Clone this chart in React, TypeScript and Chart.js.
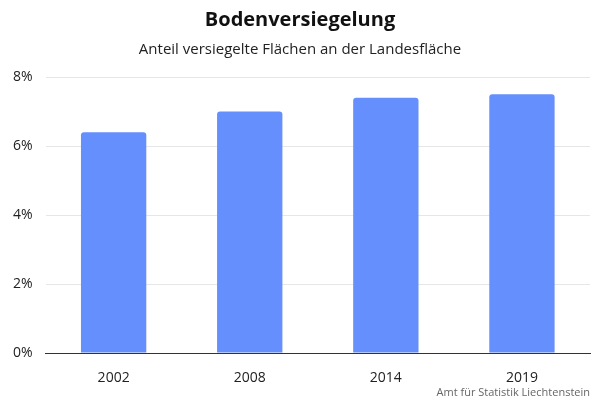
import React, { useEffect, useRef } from "react";
import { Chart, registerables } from "chart.js";

Chart.register(...registerables);

const categories = ["2002", "2008", "2014", "2019"];
const values = [6.4, 7.0, 7.4, 7.5];
const yTicks = [0, 2, 4, 6, 8];
const titleText = "Bodenversiegelung";
const subtitleText = "Anteil versiegelte Flächen an der Landesfläche";
const creditText = "Amt für Statistik Liechtenstein";

const FONT = "'Open Sans', 'Noto Sans', sans-serif";

export default function App() {
  const ref = useRef<HTMLCanvasElement | null>(null);
  useEffect(() => {
    document.body.style.margin = "0";
    if (!ref.current) return;
    const chart = new Chart(ref.current, {
      type: "bar",
      data: {
        labels: categories,
        datasets: [
          {
            data: values,
            backgroundColor: "#668ffe",
            borderRadius: { topLeft: 3, topRight: 3, bottomLeft: 0, bottomRight: 0 },
            borderSkipped: "bottom",
            categoryPercentage: 0.96,
            barPercentage: 0.5,
          },
        ],
      },
      options: {
        animation: false,
        responsive: false,
        maintainAspectRatio: false,
        layout: { padding: { left: 10, right: 10, top: 6, bottom: 1 } },
        plugins: {
          legend: { display: false },
          tooltip: { enabled: false },
          title: {
            display: true,
            text: titleText,
            color: "#111",
            font: { family: FONT, size: 20, weight: "bold" },
            padding: { top: 2, bottom: 9 },
          },
          subtitle: {
            display: true,
            text: subtitleText,
            color: "#222",
            font: { family: FONT, size: 15 },
            padding: { top: 0, bottom: 18 },
          },
        },
        scales: {
          x: {
            grid: { display: false },
            border: { display: true, color: "#333", width: 1 },
            ticks: { color: "#222", font: { family: FONT, size: 14 }, padding: 9 },
            title: {
              display: true,
              text: creditText,
              align: "end",
              color: "#666",
              font: { family: FONT, size: 11 },
              padding: { top: -10, bottom: 0 },
            },
          },
          y: {
            min: 0,
            max: 8,
            afterBuildTicks: (axis: any) => {
              axis.ticks = yTicks.map((v) => ({ value: v }));
            },
            afterFit: (axis: any) => {
              axis.width -= 10;
            },
            grid: { color: "#e6e6e6", drawTicks: false },
            border: { display: false },
            ticks: {
              color: "#222",
              font: { family: FONT, size: 14 },
              padding: 13,
              callback: (v: any) => v + "%",
            },
          },
        },
      },
    });
    return () => chart.destroy();
  }, []);
  return (
    <div style={{ position: "absolute", left: 0, top: 0, width: 600, height: 400 }}>
      <canvas ref={ref} width={600} height={400} style={{ width: 600, height: 400 }} />
    </div>
  );
}
